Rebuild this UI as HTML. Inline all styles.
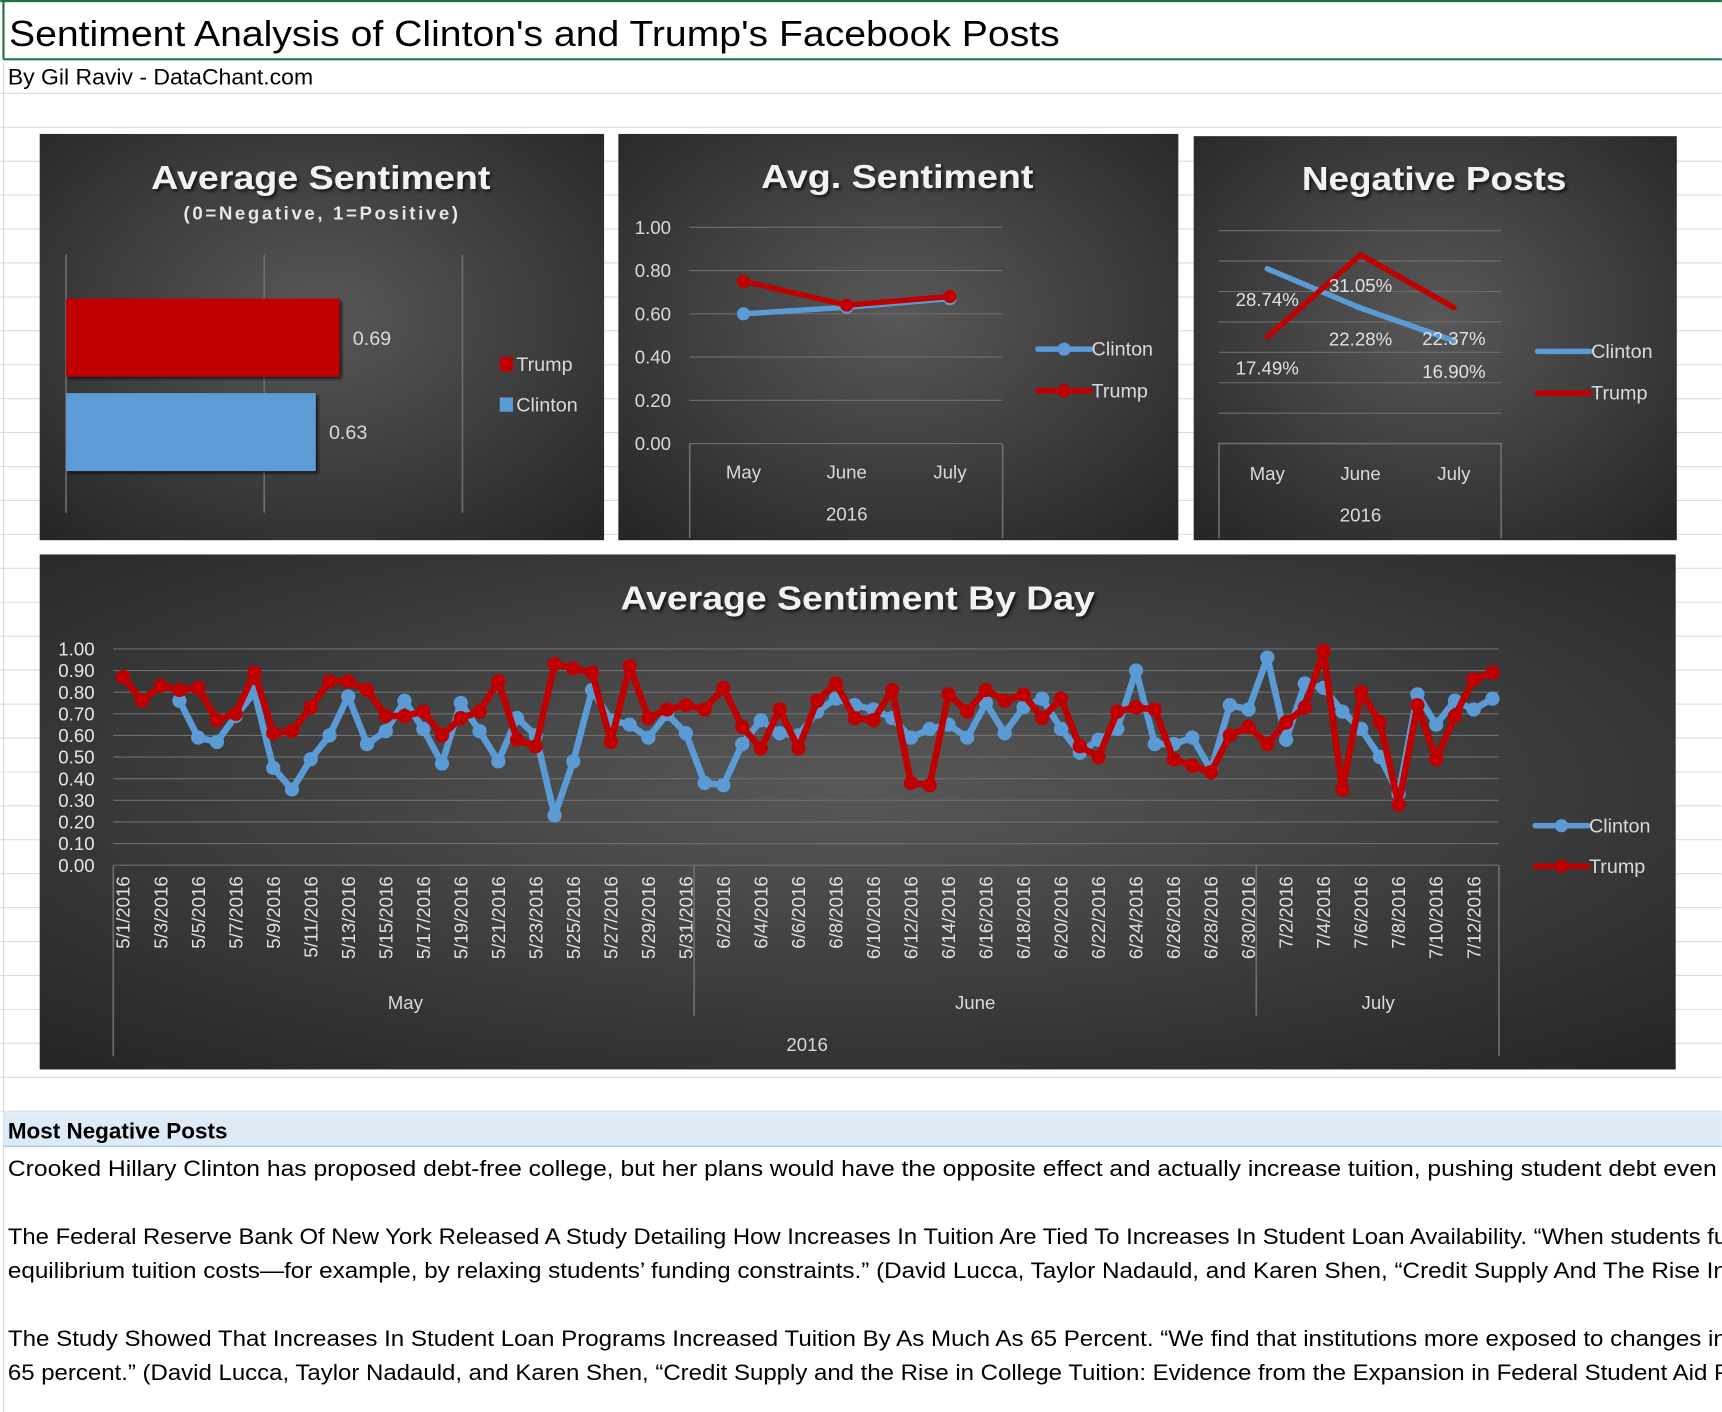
<!DOCTYPE html>
<html><head><meta charset="utf-8">
<style>
html,body{margin:0;padding:0;background:#fff;overflow:hidden}
svg{display:block}
text{font-family:"Liberation Sans",sans-serif}
</style></head>
<body>
<svg id="root" width="1722" height="1412" viewBox="0 0 1568 1286" xmlns="http://www.w3.org/2000/svg">
<defs>
<radialGradient id="bg" cx="0.5" cy="0.45" r="0.75">
<stop offset="0" stop-color="#585858"/><stop offset="1" stop-color="#242424"/>
</radialGradient>
<filter id="sh" x="-5%" y="-20%" width="110%" height="140%"><feDropShadow dx="2" dy="2" stdDeviation="1.5" flood-color="#000" flood-opacity="0.7"/></filter>
</defs>
</svg>
<script>
// ---------- data ----------
const barSeries = ["Trump","Clinton"];
const barValues = [0.69, 0.63];
const barTicks = [0, 0.5, 1];
const months = ["May","June","July"];
const monthClinton = [0.60, 0.63, 0.67];
const monthTrump = [0.75, 0.64, 0.68];
const monthTicks = [0, 0.2, 0.4, 0.6, 0.8, 1.0];
const negClinton = [28.74, 22.28, 16.90];
const negTrump = [17.49, 31.05, 22.37];
const negTicks = [0,5,10,15,20,25,30,35];
const dayTicks = [0,0.1,0.2,0.3,0.4,0.5,0.6,0.7,0.8,0.9,1.0];
const dayClinton = [null,null,null,0.76,0.59,0.57,0.69,0.80,0.45,0.35,0.49,0.60,0.78,0.56,0.62,0.76,0.63,0.47,0.75,0.62,0.48,0.68,0.60,0.23,0.48,0.81,
0.67,0.65,0.59,0.70,0.61,0.38,0.37,0.56,0.67,0.61,0.60,0.71,0.77,0.74,0.72,0.68,0.59,0.63,0.65,0.59,0.75,0.61,0.73,0.77,0.63,0.52,0.58,
0.63,0.90,0.56,0.56,0.59,0.44,0.74,0.72,0.96,0.58,0.84,0.82,0.71,0.63,0.50,0.33,0.79,0.65,0.76,0.72,0.77];
const dayTrump = [0.87,0.76,0.83,0.81,0.82,0.67,0.70,0.89,0.61,0.62,0.73,0.85,0.85,0.81,0.69,0.69,0.71,0.60,0.68,0.71,0.85,0.58,0.55,0.93,0.91,0.89,
0.57,0.92,0.68,0.72,0.74,0.72,0.82,0.64,0.54,0.72,0.54,0.76,0.84,0.68,0.67,0.81,0.38,0.37,0.79,0.71,0.81,0.76,0.79,0.68,0.77,0.55,0.50,
0.71,0.73,0.72,0.49,0.46,0.43,0.60,0.64,0.56,0.66,0.73,0.99,0.35,0.80,0.66,0.28,0.74,0.49,0.69,0.86,0.89];
const CL = "#5b9bd5", TR = "#c00000";

const NS = "http://www.w3.org/2000/svg";
const root = document.getElementById("root");
function el(tag, attrs, parent){const e=document.createElementNS(NS,tag);for(const k in attrs)e.setAttribute(k,attrs[k]);(parent||root).appendChild(e);return e;}
function txt(s, attrs, parent){const e=el("text",attrs,parent);e.textContent=s;return e;}

// ---------- spreadsheet background ----------
for(let y=85;y<1013;y+=30.9){ el("line",{x1:0,x2:1568,y1:y,y2:y,stroke:"#dcdcdc","stroke-width":1}); }
el("line",{x1:3,x2:3,y1:0,y2:1286,stroke:"#dcdcdc","stroke-width":1});
el("rect",{x:0,y:0,width:1568,height:2,fill:"#217346"});
el("line",{x1:3,x2:1568,y1:54,y2:54,stroke:"#217346","stroke-width":2});
el("line",{x1:3,x2:3,y1:0,y2:54,stroke:"#217346","stroke-width":2});
let t=txt("Sentiment Analysis of Clinton's and Trump's Facebook Posts",{x:8,y:42,"font-size":33,fill:"#000",textLength:957,lengthAdjust:"spacingAndGlyphs"});


t=txt("By Gil Raviv - DataChant.com",{x:7,y:77,"font-size":20,fill:"#000",textLength:278,lengthAdjust:"spacingAndGlyphs"});



// ---------- chart frame helper ----------
function frame(x,y,w,h,name,title,tx,ty,tl){
  const g=el("g",{});
  
  
  el("rect",{x:x,y:y,width:w,height:h,fill:"url(#bg)"},g);
  const tt=txt(title,{x:tx,y:ty,"font-size":30,"font-weight":"bold",fill:"#f2f2f2","text-anchor":"middle",filter:"url(#sh)",textLength:tl,lengthAdjust:"spacingAndGlyphs"},g);
  
  
  return g;
}
function legendLine(g,x,y,color,label,marker){
  const lg=el("g",{},g);
  
  
  el("line",{x1:x,x2:x+48,y1:y,y2:y,stroke:color,"stroke-width":5,"stroke-linecap":"round"},lg);
  if(marker) el("circle",{cx:x+24,cy:y,r:6,fill:color},lg);
  txt(label,{x:x+49,y:y+6,"font-size":18,fill:"#d9d9d9"},lg);
}

// ---------- chart 1: bar ----------
{
  const g=frame(36,122,514,370,"average-sentiment-bar-chart","Average Sentiment",292,172,309);
  const s=txt("(0=Negative, 1=Positive)",{x:292,y:200,"font-size":17,"font-weight":"bold",fill:"#e6e6e6","text-anchor":"middle",textLength:250,lengthAdjust:"spacing"},g);
  
  
  const xs=v=>60+v*361;
  barTicks.forEach(v=>{const l=el("line",{x1:xs(v),x2:xs(v),y1:232,y2:467,stroke:"#6e6e6e","stroke-width":1.5},g);
    
    });
  const ys=[272,358], cols=[TR,CL];
  barValues.forEach((v,i)=>{
    const r=el("rect",{x:60,y:ys[i],width:xs(v)-60,height:71,fill:cols[i],filter:"url(#sh)"},g);
    
    
    const lb=txt(v.toFixed(2),{x:xs(v)+12,y:ys[i]+42,"font-size":18,fill:"#d9d9d9"},g);
    
    
  });
  [[TR,"Trump",332],[CL,"Clinton",369]].forEach(a=>{
    const lg=el("g",{},g);
    
    
    el("rect",{x:455,y:a[2]-7,width:12,height:13,fill:a[0]},lg);
    txt(a[1],{x:470,y:a[2]+6,"font-size":18,fill:"#d9d9d9"},lg);
  });
}

// ---------- chart 2: monthly avg ----------
{
  const g=frame(563,122,510,370,"avg-sentiment-monthly-chart","Avg. Sentiment",817,171,248);
  const ys=v=>404-v*197, xs=i=>677+i*94;
  monthTicks.forEach(v=>{
    const l=el("line",{x1:628,x2:913,y1:ys(v),y2:ys(v),stroke:"#6e6e6e","stroke-width":1},g);
    
    
    const tl=txt(v.toFixed(2),{x:611,y:ys(v)+6,"font-size":17,fill:"#d9d9d9","text-anchor":"end"},g);
    
    
  });
  el("path",{d:"M628 404V490M913 404V490",stroke:"#6e6e6e","stroke-width":1.5,fill:"none"},g);
  months.forEach((m,i)=>{const tl=txt(m,{x:xs(i),y:436,"font-size":17,fill:"#d9d9d9","text-anchor":"middle"},g);
    
    });
  txt("2016",{x:771,y:474,"font-size":17,fill:"#d9d9d9","text-anchor":"middle"},g);
  [[monthClinton,CL,"clinton"],[monthTrump,TR,"trump"]].forEach(s=>{
    const p=el("polyline",{points:s[0].map((v,i)=>xs(i)+","+ys(v)).join(" "),fill:"none",stroke:s[1],"stroke-width":5,"stroke-linejoin":"round"},g);
    
    
    s[0].forEach((v,i)=>{const c=el("circle",{cx:xs(i),cy:ys(v),r:6,fill:s[1]},g);
      
      });
  });
  legendLine(g,945,318,CL,"Clinton",true);
  legendLine(g,945,356,TR,"Trump",true);
}

// ---------- chart 3: negative posts ----------
{
  const g=frame(1087,124,440,368,"negative-posts-chart","Negative Posts",1306,173,241);
  const ys=v=>404-v*5.54, xs=i=>1154+i*85;
  negTicks.forEach(v=>{
    if(v===0) return;
    const l=el("line",{x1:1110,x2:1367,y1:ys(v),y2:ys(v),stroke:"#6e6e6e","stroke-width":1},g);
    
    
  });
  el("path",{d:"M1110 490V404H1367V490",stroke:"#6e6e6e","stroke-width":1.5,fill:"none"},g);
  months.forEach((m,i)=>{const tl=txt(m,{x:xs(i),y:437,"font-size":17,fill:"#d9d9d9","text-anchor":"middle"},g);
    
    });
  txt("2016",{x:1239,y:475,"font-size":17,fill:"#d9d9d9","text-anchor":"middle"},g);
  [[negClinton,CL,"clinton"],[negTrump,TR,"trump"]].forEach(s=>{
    const p=el("polyline",{points:s[0].map((v,i)=>xs(i)+","+ys(v)).join(" "),fill:"none",stroke:s[1],"stroke-width":5,"stroke-linejoin":"round","stroke-linecap":"round"},g);
    
    
  });
  [[negClinton,"clinton"],[negTrump,"trump"]].forEach(s=>{
    s[0].forEach((v,i)=>{const lb=txt(v.toFixed(2)+"%",{x:xs(i),y:ys(v)+34,"font-size":17,fill:"#e0e0e0","text-anchor":"middle"},g);
      
      });
  });
  legendLine(g,1400,320,CL,"Clinton",false);
  legendLine(g,1400,358,TR,"Trump",false);
}

// ---------- chart 4: by day ----------
{
  const g=frame(36,505,1490,469,"average-sentiment-by-day-chart","Average Sentiment By Day",781,555,432);
  const ys=v=>788-v*197, xs=i=>112+i*(1230/72);
  dayTicks.forEach(v=>{
    const l=el("line",{x1:103,x2:1365,y1:ys(v),y2:ys(v),stroke:"#6e6e6e","stroke-width":1},g);
    
    
    const tl=txt(v.toFixed(2),{x:86,y:ys(v)+6,"font-size":17,fill:"#e6e6e6","text-anchor":"end"},g);
    
    
  });
  el("path",{d:"M103 788V962M1365 788V962M632 788V925M1144 788V925",stroke:"#6e6e6e","stroke-width":1.5,fill:"none"},g);
  const mStart=[[5,1,31],[6,1,30],[7,1,13]];
  let idx=0;
  mStart.forEach(m=>{for(let d=1;d<=m[2];d++){ if(idx%2===0 && idx<=72){
      const x=xs(idx);
      const tl=txt(m[0]+"/"+d+"/2016",{x:0,y:0,"font-size":17,fill:"#e0e0e0","text-anchor":"end",transform:"translate("+(x+6)+",798) rotate(-90)"},g);
      
      
    } idx++; }});
  [["May",369],["June",888],["July",1255]].forEach(a=>{const tl=txt(a[0],{x:a[1],y:919,"font-size":17,fill:"#d9d9d9","text-anchor":"middle"},g);
    
    });
  txt("2016",{x:735,y:957,"font-size":17,fill:"#d9d9d9","text-anchor":"middle"},g);
  [[dayClinton,CL,"clinton"],[dayTrump,TR,"trump"]].forEach(s=>{
    let segs=[],cur=[];
    s[0].forEach((v,i)=>{if(v===null){if(cur.length)segs.push(cur);cur=[];}else cur.push(xs(i).toFixed(1)+","+ys(v).toFixed(1));});
    if(cur.length)segs.push(cur);
    segs.forEach(sg=>{const p=el("polyline",{points:sg.join(" "),fill:"none",stroke:s[1],"stroke-width":6,"stroke-linejoin":"round"},g);
      
      });
    s[0].forEach((v,i)=>{if(v===null)return;const c=el("circle",{cx:xs(i),cy:ys(v),r:6.5,fill:s[1]},g);
      
      });
  });
  legendLine(g,1398,752,CL,"Clinton",true);
  legendLine(g,1398,789,TR,"Trump",true);
}

// ---------- text section ----------
{
  const r=el("rect",{x:3,y:1013,width:1565,height:31,fill:"#ddebf7"});
  
  
  el("line",{x1:3,x2:1568,y1:1044,y2:1044,stroke:"#9bc2e6","stroke-width":1});
  t=txt("Most Negative Posts",{x:7,y:1037,"font-size":20,"font-weight":"bold",fill:"#000",textLength:200,lengthAdjust:"spacingAndGlyphs"});
  
  
  const lines=[
   ["Crooked Hillary Clinton has proposed debt-free college, but her plans would have the opposite effect and actually increase tuition, pushing student debt even higher.",1071,1630],
   ["The Federal Reserve Bank Of New York Released A Study Detailing How Increases In Tuition Are Tied To Increases In Student Loan Availability. \u201cWhen students fund",1133,1590],
   ["equilibrium tuition costs\u2014for example, by relaxing students\u2019 funding constraints.\u201d (David Lucca, Taylor Nadauld, and Karen Shen, \u201cCredit Supply And The Rise In Co",1164,1600],
   ["The Study Showed That Increases In Student Loan Programs Increased Tuition By As Much As 65 Percent. \u201cWe find that institutions more exposed to changes in th",1226,1590],
   ["65 percent.\u201d (David Lucca, Taylor Nadauld, and Karen Shen, \u201cCredit Supply and the Rise in College Tuition: Evidence from the Expansion in Federal Student Aid Prog",1257,1600]
  ];
  lines.forEach(l=>{const e=txt(l[0],{x:7,y:l[1],"font-size":20,fill:"#000",textLength:l[2],lengthAdjust:"spacingAndGlyphs"});
    
    });
}
</script>
</body></html>
